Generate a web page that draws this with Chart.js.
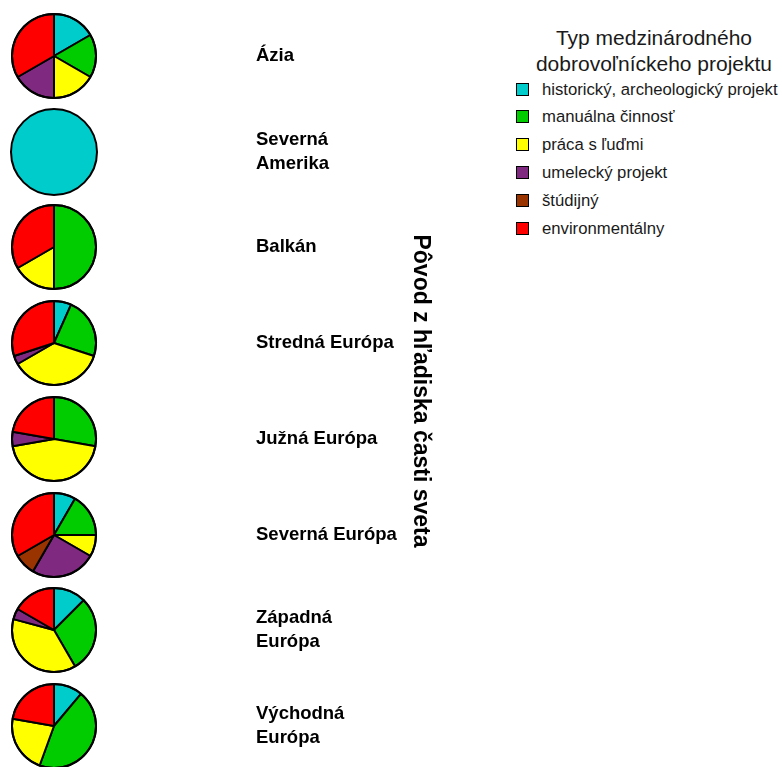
<!DOCTYPE html>
<html>
<head>
<meta charset="utf-8">
<script src="https://cdn.jsdelivr.net/npm/chart.js@4.4.1/dist/chart.umd.min.js"></script>
<style>
  html, body { margin: 0; padding: 0; background: #ffffff; width: 782px; height: 767px; overflow: hidden; }
  #stage { position: relative; width: 782px; height: 767px; overflow: hidden; }
  #main { position: absolute; left: 0; top: -20px; }
  .pie { position: absolute; }
  #legend { position: absolute; left: 500px; top: 24px; width: 282px; font-family: "Liberation Sans", Arial, sans-serif; color: #1a1a1a; }
  #legend .ttl { position: absolute; left: 0; width: 308px; text-align: center; font-size: 21px; line-height: 26px; top: 1px; }
  #legend .item { position: absolute; left: 16px; height: 20px; font-size: 16.7px; white-space: nowrap; }
  #legend .box { position: absolute; left: 0; top: 3px; width: 11px; height: 11px; border: 1.6px solid #000; }
  #legend .lbl { position: absolute; left: 26px; top: 0; line-height: 20px; }
</style>
</head>
<body>
<div id="stage">
  <canvas id="main" width="438" height="820"></canvas>
  <div id="legend"></div>
</div>
<script>
// ---- data ----
const regions = ['Ázia', ['Severná', 'Amerika'], 'Balkán', 'Stredná Európa', 'Južná Európa', 'Severná Európa', ['Západná', 'Európa'], ['Východná', 'Európa']];
const projectTypes = ['historický, archeologický projekt', 'manuálna činnosť', 'práca s ľuďmi', 'umelecký projekt', 'štúdijný', 'environmentálny'];
const historicky      = [1, 1, 0, 2, 0, 1, 3, 1];
const manualna        = [1, 0, 3, 7, 5, 2, 7, 4];
const pracaSLudmi     = [1, 0, 1, 11, 8, 1, 9, 2];
const umelecky        = [1, 0, 0, 1, 1, 3, 1, 0];
const studijny        = [0, 0, 0, 0, 0, 1, 0, 0];
const environmentalny = [2, 0, 2, 9, 4, 4, 4, 2];
const typeColors = ['#00CCCC', '#00CC00', '#FFFF00', '#7F2A80', '#993300', '#FF0000'];
const axisTitle = 'Pôvod z hľadiska časti sveta';
const legendTitle = ['Typ medzinárodného', 'dobrovoľníckeho projektu'];

const series = [historicky, manualna, pracaSLudmi, umelecky, studijny, environmentalny];
const FONT = '"Liberation Sans", Arial, Helvetica, sans-serif';
const MAIN_TOP = -20;

// ---- main chart: category axis with region labels & title ----
const mainChart = new Chart(document.getElementById('main'), {
  type: 'bar',
  data: { labels: regions, datasets: [] },
  options: {
    indexAxis: 'y',
    responsive: false,
    animation: false,
    events: [],
    layout: { padding: { top: 28, bottom: 26, left: 0, right: 0 } },
    plugins: { legend: { display: false }, tooltip: { enabled: false } },
    scales: {
      x: { type: 'linear', display: false },
      y: {
        type: 'category',
        position: 'right',
        offset: true,
        grid: { display: false, drawTicks: false },
        border: { display: false },
        ticks: {
          padding: 0,
          crossAlign: 'near',
          color: '#000000',
          font: { family: FONT, size: 18.5, weight: 'bold', lineHeight: 1.3 }
        },
        title: {
          display: true,
          text: axisTitle,
          color: '#000000',
          padding: { top: 4, bottom: 4 },
          font: { family: FONT, size: 23, weight: 'bold', lineHeight: 1.2 }
        },
        afterFit: (scale) => { scale.width = 182; }
      }
    }
  }
});

// ---- pies positioned on the category scale ----
const ringPlugin = {
  id: 'ring',
  afterDatasetsDraw(chart) {
    const arc = chart.getDatasetMeta(0).data[0];
    if (!arc) return;
    const ctx = chart.ctx;
    ctx.save();
    ctx.beginPath();
    ctx.arc(arc.x, arc.y, arc.outerRadius, 0, Math.PI * 2);
    ctx.lineWidth = 2;
    ctx.strokeStyle = '#000000';
    ctx.stroke();
    ctx.restore();
  }
};

const stage = document.getElementById('stage');
const yScale = mainChart.scales.y;
const PIE_SIZE = 90, PIE_CX = 54;
regions.forEach((r, i) => {
  const values = series.map(s => s[i]);
  const nonZero = values.filter(v => v > 0).length;
  const cy = yScale.getPixelForValue(i) + MAIN_TOP;
  const cv = document.createElement('canvas');
  cv.className = 'pie';
  cv.width = PIE_SIZE; cv.height = PIE_SIZE;
  cv.style.left = (PIE_CX - PIE_SIZE / 2) + 'px';
  cv.style.top = (cy - PIE_SIZE / 2) + 'px';
  stage.appendChild(cv);
  new Chart(cv, {
    type: 'pie',
    data: {
      labels: projectTypes,
      datasets: [{
        data: values,
        backgroundColor: typeColors,
        borderColor: '#000000',
        borderWidth: nonZero > 1 ? 2 : 0
      }]
    },
    options: {
      responsive: false,
      animation: false,
      events: [],
      layout: { padding: 2 },
      plugins: { legend: { display: false }, tooltip: { enabled: false } }
    },
    plugins: [ringPlugin]
  });
});

// ---- legend ----
const legend = document.getElementById('legend');
const t = document.createElement('div');
t.className = 'ttl';
t.innerHTML = legendTitle.join('<br>');
legend.appendChild(t);
projectTypes.forEach((name, k) => {
  const it = document.createElement('div');
  it.className = 'item';
  it.style.top = (55.5 + k * 27.9) + 'px';
  const b = document.createElement('div');
  b.className = 'box';
  b.style.background = typeColors[k];
  const l = document.createElement('div');
  l.className = 'lbl';
  l.textContent = name;
  it.appendChild(b); it.appendChild(l);
  legend.appendChild(it);
});
</script>
</body>
</html>
